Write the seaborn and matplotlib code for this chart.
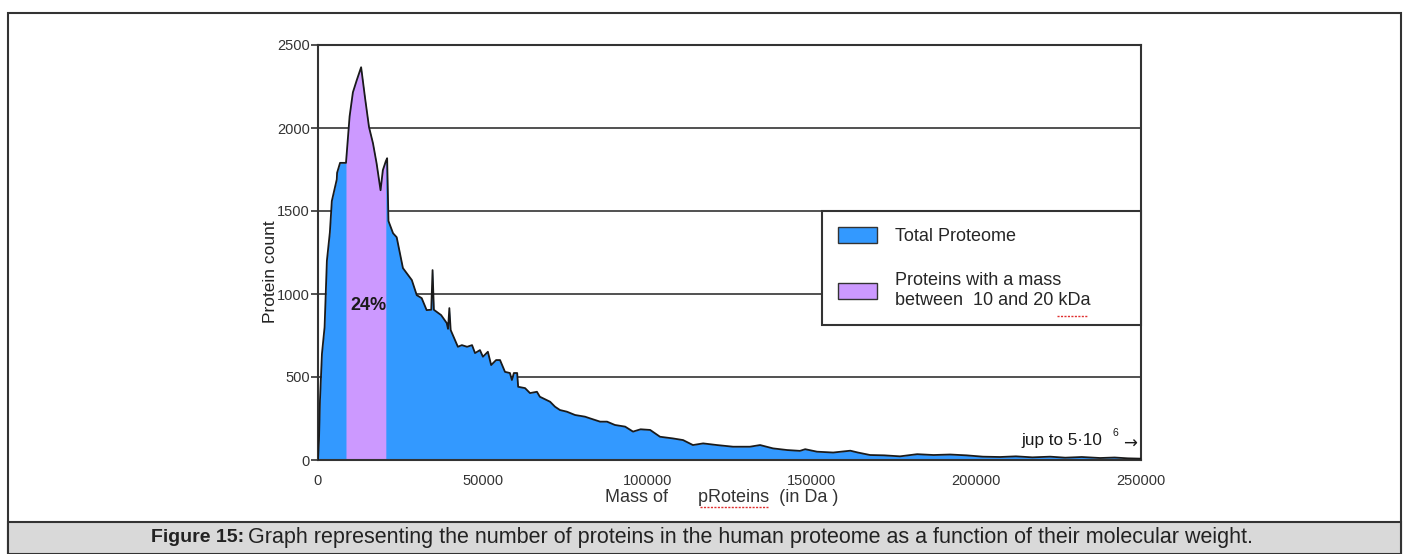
import numpy as np
import pandas as pd
import seaborn as sns
import matplotlib.pyplot as plt
from matplotlib.patches import Patch, Rectangle
from matplotlib.lines import Line2D

sns.set_theme(style='white')
plt.rcParams['font.family'] = ['Liberation Sans', 'DejaVu Sans']

# protein mass (Da) and protein count
mass_da = [0, 300, 600, 1200, 2000, 2700, 3600, 4200, 5700, 5800, 6700,
           8500, 9600, 10600, 11800, 13100, 14300, 15500, 16700, 17800,
           19000, 19700, 20600, 21000, 21400, 22800, 23900, 25800, 28500,
           30000, 31500, 33000, 34400, 34800, 35200, 37400, 39100, 39500,
           39900, 40300, 42500, 43700, 45300, 46800, 47700, 49200, 50100,
           51600, 52600, 54100, 55300, 56800, 58300, 58900, 59500, 60500,
           60800, 62900, 64400, 66500, 67400, 70500, 72000, 73500, 75600,
           78100, 81100, 82600, 85700, 87800, 90200, 93300, 95700, 98000,
           100900, 103900, 107800, 110900, 113900, 117000, 121200, 126100,
           131200, 134300, 138200, 142500, 146400, 148000, 151600, 156500,
           161700, 164000, 167700, 172000, 176800, 182000, 187000, 192000,
           197000, 202000, 207200, 212000, 217000, 222400, 227000, 232000,
           237600, 242000, 246000, 250000]
protein_count = [0, 120, 360, 640, 800, 1200, 1370, 1560, 1690, 1730, 1790,
                 1790, 2070, 2215, 2290, 2366, 2180, 2005, 1908, 1787,
                 1625, 1746, 1800, 1818, 1440, 1366, 1342, 1156, 1084,
                 993, 975, 903, 905, 1144, 905, 873, 825, 790,
                 915, 783, 682, 692, 682, 692, 644, 662, 622,
                 652, 572, 602, 602, 531, 524, 482, 524, 524,
                 441, 433, 403, 411, 381, 351, 321, 301, 291,
                 271, 261, 251, 231, 231, 211, 201, 171, 185,
                 181, 140, 130, 120, 90, 100, 90, 80,
                 80, 90, 70, 60, 55, 65, 50, 45,
                 56, 45, 30, 28, 22, 35, 30, 33,
                 28, 20, 18, 22, 16, 20, 14, 18,
                 12, 15, 10, 8]

band_lo, band_hi = 8500, 20600
band_share = '24%'
y_ticks = [0, 500, 1000, 1500, 2000, 2500]
x_ticks = [0, 50000, 100000, 150000, 200000, 250000]

df = pd.DataFrame({'mass': mass_da, 'count': protein_count})
blue = '#3399ff'
purple = '#cc99ff'
ink = '#1a1a1a'

fig = plt.figure(figsize=(14.05, 5.54), dpi=100)
ax = fig.add_axes([318/1405, 94/554, 823/1405, 415/554])

ax.fill_between(df['mass'], df['count'], color=blue, lw=0)
mask = (df['mass'] >= band_lo) & (df['mass'] <= band_hi)
ax.fill_between(df['mass'], df['count'], where=mask, color=purple, lw=0)
sns.lineplot(data=df, x='mass', y='count', sort=False, color=ink,
             lw=1.3, ax=ax, zorder=3)

ax.set_xlim(0, 250000)
ax.set_ylim(0, 2500)
ax.set_yticks(y_ticks)
ax.set_xticks(x_ticks)
ax.set_xticklabels([str(v) for v in x_ticks])
ax.grid(axis='y', color='#333333', lw=1.2)
ax.set_axisbelow(True)
for sp in ax.spines.values():
    sp.set_color('#333333')
    sp.set_linewidth(1.5)
ax.tick_params(axis='y', length=5, width=1.2, color='#333333', labelsize=10.5,
               labelcolor='#333333', pad=1, left=True)
ax.tick_params(axis='x', length=0, labelsize=10.5, labelcolor='#333333', pad=10)

ax.set_xlabel('Mass of      pRoteins  (in Da )', fontsize=13, color='#333333')
ax.xaxis.set_label_coords(0.491, -0.07)
ax.set_ylabel('Protein count', fontsize=12.5, color='#222222')
ax.yaxis.set_label_coords(-0.048, 0.453)

ax.text(15200, 930, band_share, fontsize=13, fontweight='bold',
        ha='center', va='center', color=ink, zorder=4)

ax.text(238200, 120, 'jup to 5·10', fontsize=12.3, ha='right', va='center',
        color=ink)
ax.text(242100, 163, '6', fontsize=7.5, ha='center', va='center', color=ink)
ax.text(246700, 100, '→', fontsize=12, ha='center', va='center', color=ink,
        family='DejaVu Sans')

handles = [Patch(facecolor=blue, edgecolor='#333333', label='Total Proteome'),
           Patch(facecolor=purple, edgecolor='#333333',
                 label='Proteins with a mass\nbetween  10 and 20 kDa')]
leg = ax.legend(handles=handles, loc='upper left',
                bbox_to_anchor=(504/823, 249/415, 319/823, 0.0),
                mode='expand', fontsize=13, frameon=True, fancybox=False,
                handlelength=2.15, handleheight=1.0, labelspacing=1.5,
                borderpad=0.88, handletextpad=1.0, borderaxespad=0)
leg.get_frame().set_edgecolor('#333333')
leg.get_frame().set_linewidth(1.5)
leg.get_frame().set_facecolor('white')
leg.get_frame().set_alpha(1)

# outer frame and caption band
fig.patches.append(Rectangle((8/1405, 0), 1393/1405, 541/554,
                             transform=fig.transFigure, fill=False,
                             edgecolor='#333333', lw=1.5))
fig.patches.append(Rectangle((8/1405, 0), 1393/1405, 32/554,
                             transform=fig.transFigure, facecolor='#d9d9d9',
                             edgecolor='#333333', lw=1.5))
fig.text(244/1405, 17/554, 'Figure 15:', fontsize=14, fontweight='bold',
         ha='right', va='center', color='#222222')
fig.text(248/1405, 17/554, 'Graph representing the number of proteins in the '
         'human proteome as a function of their molecular weight.',
         fontsize=15.5, ha='left', va='center', color='#222222')

# spell-check squiggles from the original document
for x0, x1, yp in [(700, 768, 507), (1057, 1087, 316)]:
    fig.add_artist(Line2D([x0/1405, x1/1405], [1 - yp/554, 1 - yp/554],
                          transform=fig.transFigure, color='#e03030',
                          lw=1.0, ls=(0, (1.5, 1.0))))

fig.savefig('out.png', dpi=100)
